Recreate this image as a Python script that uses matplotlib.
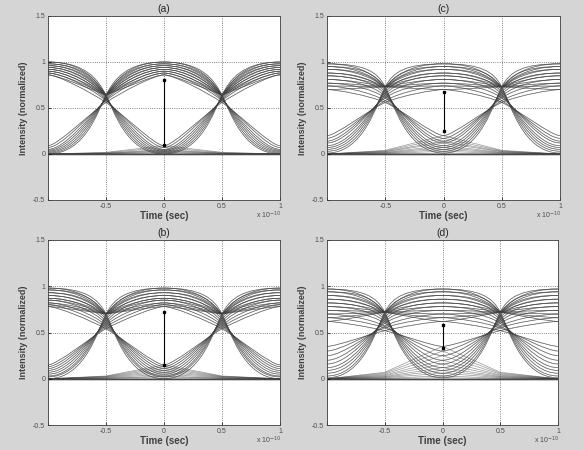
import matplotlib
matplotlib.use("Agg")
import matplotlib.pyplot as plt
from matplotlib.path import Path
from matplotlib.patches import PathPatch

plt.rcParams['font.family'] = ['Liberation Sans', 'DejaVu Sans']

# sample instants of one eye window (bit centres at -1, 0, 1; bit edges at -0.5, 0.5), units of 1e-10 s
t_samples = [-1.0, -0.5, 0.0, 0.5, 1.0]

# (a)
hi_a = [1.00, 0.98, 0.96, 0.94, 0.92, 0.90, 0.88, 0.86]
lo_a = [0.00, 0.01, 0.02, 0.03, 0.04, 0.05, 0.07, 0.09]
cross_a = [0.64, 0.63, 0.62, 0.61, 0.60, 0.59, 0.58, 0.56]
dip_a = 0.64
eye_a = (0.10, 0.80)

# (b)
hi_b = [0.98, 0.96, 0.93, 0.90, 0.87, 0.85, 0.82, 0.80, 0.78]
lo_b = [0.00, 0.02, 0.03, 0.05, 0.07, 0.09, 0.11, 0.13, 0.15]
cross_b = [0.70, 0.68, 0.66, 0.64, 0.62, 0.60, 0.58, 0.56, 0.54]
dip_b = 0.70
eye_b = (0.15, 0.72)

# (c)
hi_c = [0.98, 0.95, 0.92, 0.88, 0.85, 0.81, 0.77, 0.74, 0.70]
lo_c = [0.01, 0.03, 0.05, 0.07, 0.09, 0.12, 0.14, 0.17, 0.20]
cross_c = [0.73, 0.71, 0.69, 0.67, 0.65, 0.63, 0.61, 0.58, 0.56]
dip_c = 0.73
eye_c = (0.25, 0.67)

# (d)
hi_d = [0.97, 0.94, 0.90, 0.86, 0.82, 0.78, 0.74, 0.70, 0.66, 0.62]
lo_d = [0.01, 0.03, 0.06, 0.09, 0.12, 0.16, 0.20, 0.25, 0.30, 0.35]
cross_d = [0.72, 0.70, 0.68, 0.66, 0.64, 0.62, 0.60, 0.57, 0.55, 0.52]
dip_d = 0.72
eye_d = (0.33, 0.58)

panels = [
    ("(a)", hi_a, lo_a, cross_a, dip_a, eye_a, [48, 16, 280, 200]),
    ("(c)", hi_c, lo_c, cross_c, dip_c, eye_c, [327, 16, 560, 200]),
    ("(b)", hi_b, lo_b, cross_b, dip_b, eye_b, [48, 240, 280, 425]),
    ("(d)", hi_d, lo_d, cross_d, dip_d, eye_d, [327, 240, 558, 425]),
]

patterns = [(a, b, c) for a in (0, 1) for b in (0, 1) for c in (0, 1)]


def clamp(y, a, b):
    return min(max(y, min(a, b)), max(a, b))


def trace_path(bits, hi, lo, cross, dip, q):
    # q: 0 = fast clean trace, 1 = slow trace with most ISI
    cen = []
    for k, b in enumerate(bits):
        if b:
            cen.append(hi)
        else:
            near = [bits[j] for j in (k - 1, k + 1) if 0 <= j < 3]
            cen.append(lo if any(near) else 0.0)
    k_sl = 2.5 - 1.4 * q
    hc = 0.32 - 0.24 * q
    he = 0.07 + 0.07 * q
    verts = [(t_samples[0], cen[0])]
    codes = [Path.MOVETO]
    for k in range(2):
        a, b = cen[k], cen[k + 1]
        ta, te, tb = t_samples[2 * k], t_samples[2 * k + 1], t_samples[2 * k + 2]
        if bits[k] == bits[k + 1] == 0:
            # zero next to zero: straight ISI ramp
            c = 0.2 * max(a, b)
            verts += [(te, c), (tb, b)]
            codes += [Path.LINETO] * 2
            continue
        if bits[k] != bits[k + 1]:
            c = cross
            s_l = s_r = k_sl * (b - a)
        else:
            c = dip
            s_l = k_sl * (c - a) / 0.5
            s_r = k_sl * (b - c) / 0.5
        p2 = (te - he, clamp(c - s_l * he, a, c))
        p3 = (te + he, clamp(c + s_r * he, c, b))
        verts += [(ta + hc, a), p2, (te, c), p3, (tb - hc, b), (tb, b)]
        codes += [Path.CURVE4] * 6
    return Path(verts, codes)


fig = plt.figure(figsize=(5.84, 4.5), dpi=100)
fig.patch.set_facecolor('#d5d5d5')
W, H = 584.0, 450.0

for title, hi, lo, cross, dip, eye, box in panels:
    l, t, r, b = box
    ax = fig.add_axes([l / W, 1 - b / H, (r - l) / W, (b - t) / H])
    ax.set_facecolor('white')
    n = len(hi)
    for i in range(n):
        q = i / (n - 1)
        for bits in patterns:
            p = trace_path(bits, hi[i], lo[i], cross[i], dip, q)
            w = 0.8 if sum(bits) == 0 else 0.5
            ax.add_patch(PathPatch(p, fill=False, edgecolor='0.25', lw=w, alpha=0.55))
    # eye opening marker
    ax.plot([0, 0], list(eye), color='k', lw=0.8)
    ax.plot([0, 0], list(eye), 's', color='k', ms=1.8)

    ax.set_xlim(-1, 1)
    ax.set_ylim(-0.5, 1.5)
    ax.set_xticks([-1, -0.5, 0, 0.5, 1])
    ax.set_xticklabels(['', '-0.5', '0', '0.5', '1'])
    ax.set_yticks([-0.5, 0, 0.5, 1, 1.5])
    ax.set_yticklabels(['-0.5', '0', '0.5', '1', '1.5'])
    ax.tick_params(direction='in', length=2, width=0.5, labelsize=5,
                   labelcolor='0.3', pad=2)
    ax.grid(True, linestyle=':', color='0.35', lw=0.6)
    for s in ax.spines.values():
        s.set_linewidth(0.6)
        s.set_color('0.25')
    ax.set_title(title, fontsize=7.5, color='0.15', pad=3)
    ax.set_xlabel('Time (sec)', fontsize=7, fontweight='bold', color='0.25', labelpad=1)
    ax.set_ylabel('Intensity (normalized)', fontsize=6.5, fontweight='bold',
                  color='0.25', labelpad=4)
    ax.text(0.95, -0.055, r'x 10$^{-10}$', transform=ax.transAxes, fontsize=5,
            color='0.3', ha='center', va='top')

fig.savefig('out.png', dpi=100, facecolor=fig.get_facecolor())
